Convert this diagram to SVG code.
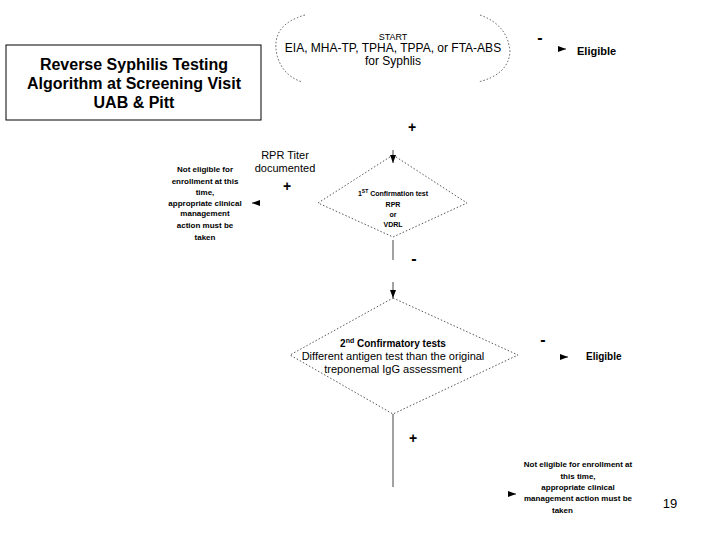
<svg xmlns="http://www.w3.org/2000/svg" width="720" height="540" viewBox="0 0 720 540">
<style>
text{font-family:"Liberation Sans",Arial,sans-serif;fill:#000}
.b{font-weight:bold}
.dot{fill:none;stroke:#555;stroke-width:1;stroke-dasharray:1.5 2}
.ln{stroke:#444;stroke-width:1;fill:none}
</style>
<defs><marker id="ah" markerWidth="8" markerHeight="6" refX="8" refY="3" orient="auto" markerUnits="userSpaceOnUse"><path d="M0,0L8,3L0,6z" fill="#000"/></marker></defs>
<rect width="720" height="540" fill="#fff"/>
<g id="title"><rect x="6" y="45" width="255" height="75" fill="#fff" stroke="#000"/>
<text x="134" y="70" text-anchor="middle" class="b" font-size="16">Reverse Syphilis Testing</text>
<text x="134" y="89" text-anchor="middle" class="b" font-size="16">Algorithm at Screening Visit</text>
<text x="134" y="108" text-anchor="middle" class="b" font-size="16">UAB &amp; Pitt</text></g>
<g id="start"><path class="dot" d="M305,15 Q270,25 277,55 Q282,75 302,82"/><path class="dot" d="M480,15 Q508,25 510,52 Q508,75 478,82"/>
<text x="393" y="40" text-anchor="middle" font-size="9">START</text>
<text x="393" y="52" text-anchor="middle" font-size="12">EIA, MHA-TP, TPHA, TPPA, or FTA-ABS</text>
<text x="393" y="65" text-anchor="middle" font-size="12">for Syphlis</text></g>
<g id="elig1"><text x="577" y="55" class="b" font-size="11">Eligible</text></g>
<g id="d1"><path class="dot" d="M393,155L467,203L393,237L318,203Z"/>
<text x="393" y="196" text-anchor="middle" class="b" font-size="7">1<tspan font-size="5" dy="-3">ST</tspan><tspan dy="3"> Confirmation test</tspan></text>
<text x="393" y="207" text-anchor="middle" class="b" font-size="7">RPR</text>
<text x="393" y="217" text-anchor="middle" class="b" font-size="7">or</text>
<text x="393" y="227" text-anchor="middle" class="b" font-size="7">VDRL</text></g>
<g id="ne1" class="b" font-size="8">
<text x="205" y="172" text-anchor="middle" class="b">Not eligible for</text>
<text x="205" y="184" text-anchor="middle" class="b">enrollment at this</text>
<text x="205" y="195" text-anchor="middle" class="b">time,</text>
<text x="205" y="206" text-anchor="middle" class="b">appropriate clinical</text>
<text x="205" y="216" text-anchor="middle" class="b">management</text>
<text x="205" y="228" text-anchor="middle" class="b">action must be</text>
<text x="205" y="240" text-anchor="middle" class="b">taken</text></g>
<g id="rpr"><text x="285" y="159" text-anchor="middle" font-size="11">RPR Titer</text><text x="285" y="172" text-anchor="middle" font-size="11">documented</text></g>
<g id="d2"><path class="dot" d="M393,298L518,355L393,414L290,355Z"/>
<text x="393" y="347" text-anchor="middle" class="b" font-size="10">2<tspan font-size="7" dy="-4">nd</tspan><tspan dy="4"> Confirmatory tests</tspan></text>
<text x="393" y="360" text-anchor="middle" font-size="11">Different antigen test than the original</text>
<text x="393" y="373" text-anchor="middle" font-size="11">treponemal IgG  assessment</text></g>
<g id="elig2"><text x="586" y="360" class="b" font-size="10">Eligible</text></g>
<g id="ne2" font-size="8">
<text x="578" y="467" text-anchor="middle" class="b">Not eligible for enrollment at</text>
<text x="578" y="479" text-anchor="middle" class="b">this time,</text>
<text x="578" y="490" text-anchor="middle" class="b">appropriate clinical</text>
<text x="578" y="501" text-anchor="middle" class="b">management action must be</text>
<text x="552" y="513" class="b">taken</text></g>
<g id="pg"><text x="670" y="508" text-anchor="middle" font-size="13">19</text></g>
<g id="connectors">
<path class="ln" d="M558,49L566,49" marker-end="url(#ah)"/>
<text x="540" y="43" text-anchor="middle" class="b" font-size="16">-</text>
<text x="412" y="132" text-anchor="middle" class="b" font-size="14">+</text>
<path class="ln" d="M393,150L393,163" marker-end="url(#ah)"/>
<text x="287" y="191" text-anchor="middle" class="b" font-size="14">+</text>
<path class="ln" d="M260,203L252,203" marker-end="url(#ah)"/>
<path class="ln" d="M393,240L393,260"/>
<text x="414" y="264" text-anchor="middle" class="b" font-size="16">-</text>
<path class="ln" d="M393,282L393,298" marker-end="url(#ah)"/>
<text x="543" y="345" text-anchor="middle" class="b" font-size="16">-</text>
<path class="ln" d="M560,357L568,357" marker-end="url(#ah)"/>
<path class="ln" d="M393,414L393,487"/>
<text x="413" y="443" text-anchor="middle" class="b" font-size="14">+</text>
<path class="ln" d="M508,494L516,494" marker-end="url(#ah)"/>
</g>
</svg>
